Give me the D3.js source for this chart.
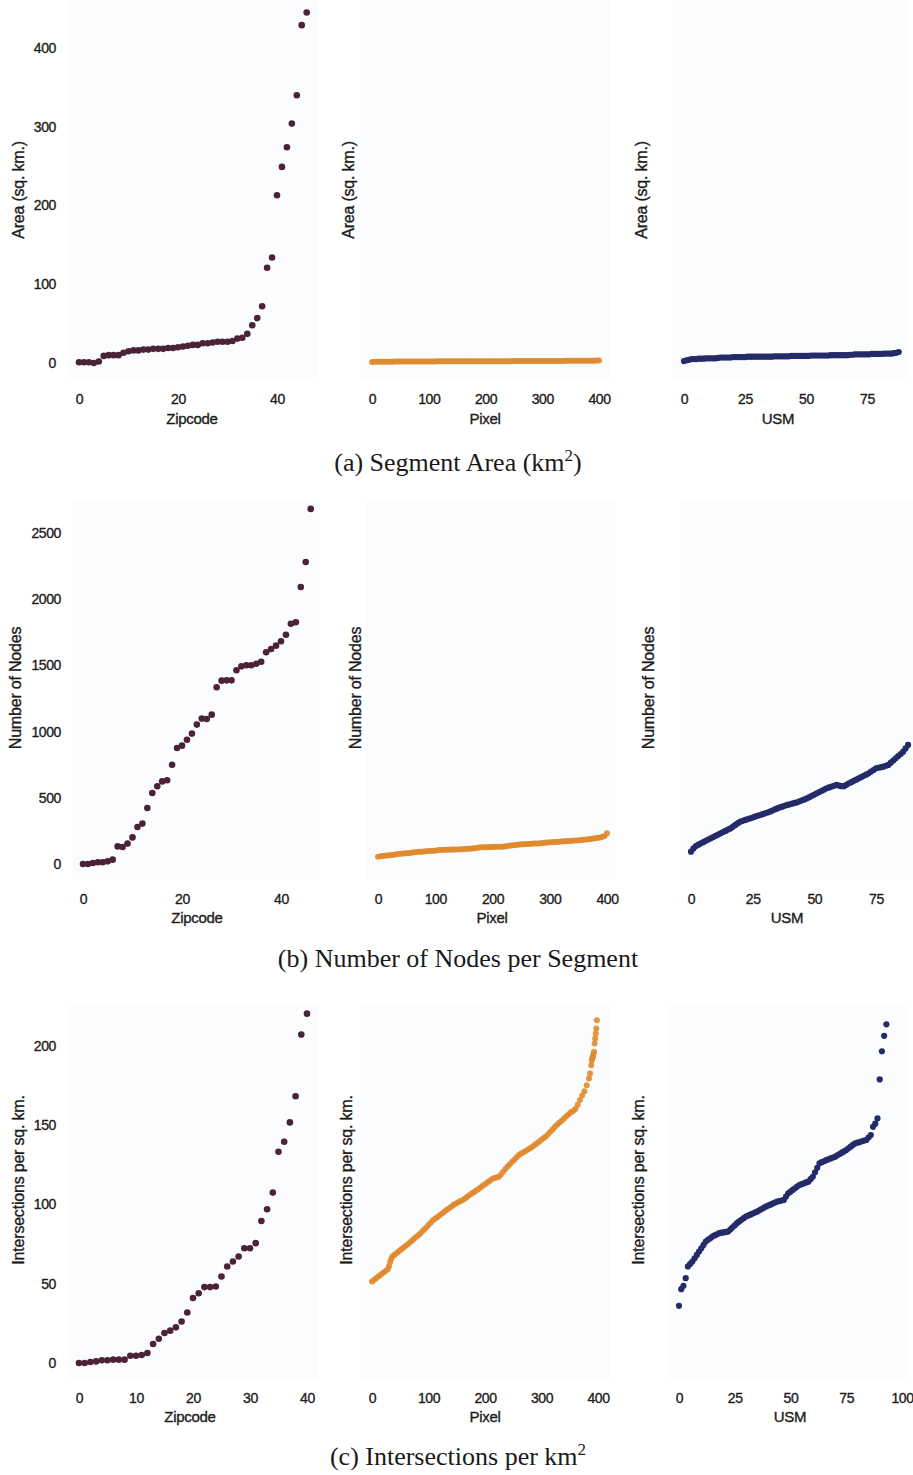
<!DOCTYPE html>
<html><head><meta charset="utf-8">
<script src="https://cdn.jsdelivr.net/npm/d3@7"></script>
<style>body{margin:0;background:#fff}svg{display:block}</style>
</head><body>
<svg id="chart" width="913" height="1475"></svg>
<script>
// ---------------- DATA ----------------
const xTicksZip = [0, 20, 40];
const xTicksZipC = [0, 10, 20, 30, 40];
const xTicksPixel = [0, 100, 200, 300, 400];
const xTicksUsm = [0, 25, 50, 75];
const xTicksUsmC = [0, 25, 50, 75, 100];
const yTicksArea = [0, 100, 200, 300, 400];
const yTicksNodes = [0, 500, 1000, 1500, 2000, 2500];
const yTicksInter = [0, 50, 100, 150, 200];

// (a) Segment area, sorted per segmentation (x = rank)
const zipcodeArea = [1,1,1,0,2,9,10,10,10,13,15,16,16,17,17,18,18,18,19,19,20,21,22,23,23,25,25,26,27,27,27,28,31,32,37,48,57,72,121,134,213,249,274,304,340,429,445];
const pixelRanks = d3.range(0, 401, 4);
const pixelArea = [1.4,1.5,1.5,1.6,1.6,1.6,1.7,1.7,1.7,1.7,1.8,1.8,1.8,1.8,1.8,1.9,1.9,1.9,1.9,1.9,1.9,2.0,2.0,2.0,2.0,2.0,2.0,2.0,2.0,2.1,2.1,2.1,2.1,2.1,2.1,2.1,2.1,2.1,2.1,2.2,2.2,2.2,2.2,2.2,2.2,2.2,2.2,2.2,2.2,2.2,2.2,2.3,2.3,2.3,2.3,2.3,2.3,2.3,2.3,2.3,2.3,2.3,2.4,2.4,2.4,2.4,2.4,2.4,2.4,2.4,2.4,2.5,2.5,2.5,2.5,2.5,2.5,2.5,2.5,2.6,2.6,2.6,2.6,2.6,2.6,2.7,2.7,2.7,2.7,2.7,2.8,2.8,2.8,2.8,2.9,2.9,2.9,3.0,3.0,3.1,3.2];
const usmArea = [2.5,3.5,4,5,5,5,5.5,5.5,5.5,6,6,6,6,6,6.5,7,7,7,7,7,7.5,7.5,7.5,7.5,7.5,7.5,8,8,8,8,8,8,8,8,8,8,8,8.5,8.5,8.5,8.5,8.5,8.5,8.5,9,9,9,9,9,9,9,9,9.5,9.5,9.5,9.5,9.5,9.5,9.5,9.5,10,10,10,10,10,10,10,10,10.5,10.5,11,11,11,11,11,11,11,11.5,11.5,11.5,11.5,11.5,12,12,12,12,12.5,13,14];

// (b) Number of nodes per segment
const zipcodeNodes = [0,0,8,13,13,20,33,133,128,154,201,280,305,423,536,587,624,632,750,876,894,939,985,1053,1098,1095,1128,1335,1385,1387,1387,1463,1493,1501,1501,1513,1528,1599,1624,1649,1682,1732,1815,1826,2092,2281,2682];
const pixelNodes = [55,58,60,62,64,66,68,70,73,75,77,79,81,82,84,86,88,90,92,93,95,96,98,99,100,101,103,105,106,107,107,108,109,109,110,110,111,112,113,115,116,117,119,121,124,126,127,127,128,129,129,130,130,131,131,133,135,137,139,141,143,146,148,149,150,151,152,153,154,155,155,156,158,160,162,164,165,166,167,168,169,171,172,173,174,176,177,178,180,181,183,185,187,189,192,195,198,201,205,212,232];
const usmNodes = [93,118,136,146,156,165,175,185,194,203,213,222,232,241,250,260,269,282,295,308,320,326,333,339,345,351,358,364,370,376,383,389,395,404,412,420,427,433,440,446,451,456,461,466,473,481,488,496,505,515,524,534,543,553,562,572,578,585,591,597,592,588,588,598,609,618,628,637,647,656,666,675,685,698,710,723,727,731,735,742,748,765,781,798,815,831,848,873,899];

// (c) Intersections per sq. km.
const zipcodeInter = [0,0,0.6,1,1.7,1.7,2.1,2.1,2.1,4.6,4.6,5,6.3,12,15.3,18.9,20.4,22.5,26.2,31.9,41,44,47.9,47.9,48.3,54.6,60.9,64,67.2,72.4,72.4,75.6,89.6,97,107.5,133.3,139.6,151.8,168.3,207.2,220.4];
const pixelInter = [[0,51.4],[4,52.5],[8,53.6],[12,54.8],[16,55.9],[20,57.0],[24,58.1],[28,59.2],[30,61.0],[32,63.5],[34,65.6],[36,67.2],[40,68.3],[44,69.4],[48,70.6],[52,71.7],[56,72.8],[60,73.9],[64,75.1],[68,76.3],[72,77.6],[76,78.8],[80,80.0],[84,81.3],[88,82.6],[92,84.0],[96,85.5],[100,87.0],[104,88.5],[108,90.0],[112,91.1],[116,92.1],[120,93.2],[124,94.3],[128,95.4],[132,96.5],[136,97.5],[140,98.6],[144,99.7],[148,100.5],[152,101.2],[156,102.0],[160,102.7],[164,103.7],[168,104.8],[172,105.8],[176,106.8],[180,107.7],[184,108.7],[188,109.7],[192,110.7],[196,111.8],[200,112.8],[204,113.9],[208,114.9],[212,116.0],[216,116.7],[220,117.0],[224,117.4],[228,118.8],[232,120.6],[236,122.4],[240,124.0],[244,125.4],[248,126.9],[252,128.3],[256,129.8],[260,131.2],[264,132.1],[268,133.0],[272,133.8],[276,134.7],[280,135.5],[284,136.4],[288,137.5],[292,138.6],[296,139.7],[300,140.8],[304,141.9],[308,143.1],[312,144.5],[316,146.0],[320,147.5],[324,149.0],[328,150.5],[332,151.8],[336,153.0],[340,154.3],[344,155.6],[348,156.9],[352,158.2],[356,159.0],[360,160.2],[364,163.0],[368,165.9],[372,168.7],[376,171.5],[380,175.3],[384,179.5],[386,182.6],[388,187.9],[389,191.0],[390,192.3],[391,193.6],[392,195.0],[393,196.3],[394,201.6],[395,204.7],[396,207.9],[397,211.0],[398,216.3]];
const usmInter = [36.1,46.6,48.7,53.5,60.9,62.5,64.0,66.1,68.2,70.3,72.4,74.5,76.6,77.7,78.7,79.8,80.5,81.2,81.9,82.2,82.4,82.7,82.9,84.2,85.6,86.9,88.2,89.3,90.3,91.4,92.4,93.0,93.6,94.3,94.9,95.5,96.3,97.1,97.9,98.7,99.3,99.9,100.6,101.2,101.8,102.2,102.5,102.9,105.0,107.1,108.1,109.2,110.2,111.3,112.3,112.8,113.4,113.9,114.4,116.0,117.5,120.3,123.2,126.0,126.7,127.3,128.0,128.5,129.1,129.6,130.1,131.0,131.8,132.7,133.5,134.4,135.5,136.5,137.6,138.6,139.0,139.4,139.9,140.3,140.7,142.2,143.8,149.0,151.0,154.3,178.9,196.7,206.4,213.7];

const captions = ["(a) Segment Area (km", "(b) Number of Nodes per Segment", "(c) Intersections per km"];
const yLabels = ["Area (sq. km.)", "Number of Nodes", "Intersections per sq. km."];

// ---------------- STYLE / LAYOUT ----------------
const colors = {Zipcode: "#4b2335", Pixel: "#e0892e", USM: "#252a68"};
const radius = {Zipcode: 3.3, Pixel: 3.0, USM: 3.1};
const textColor = "#1c1c1c";
const sansFont = "'Liberation Sans', Arial, sans-serif";
const serifFont = "'Liberation Serif', 'Times New Roman', serif";

const pairs = (vals) => vals.map((v, i) => [i, v]);
const rankPairs = (ranks, vals) => vals.map((v, i) => [ranks[i], v]);

const rows = [
  { caption: captions[0], sup: "2)", captionY: 471, ylabel: yLabels[0], yDomain: [0, 400], yRange: [363, 48], yTicks: yTicksArea,
    tickRight: 56, xTickY: 399, xTitleY: 418, ylabelY: 190, box: [0, 378],
    panels: [
      {name: "Zipcode", data: pairs(zipcodeArea), xDomain: [0, 40], xRange: [79, 277], xTicks: xTicksZip, titleX: 192, ylabX: 18, box: [68, 318]},
      {name: "Pixel", data: rankPairs(pixelRanks, pixelArea), xDomain: [0, 400], xRange: [372, 599], xTicks: xTicksPixel, titleX: 485, ylabX: 348, box: [360, 610]},
      {name: "USM", data: pairs(usmArea), xDomain: [0, 75], xRange: [684, 867], xTicks: xTicksUsm, titleX: 778, ylabX: 641, box: [672, 908]}
    ]},
  { caption: captions[1], sup: null, captionY: 967, ylabel: yLabels[1], yDomain: [0, 2500], yRange: [864, 533], yTicks: yTicksNodes,
    tickRight: 61, xTickY: 899, xTitleY: 917, ylabelY: 688, box: [500, 880],
    panels: [
      {name: "Zipcode", data: pairs(zipcodeNodes), xDomain: [0, 40], xRange: [83, 281], xTicks: xTicksZip, titleX: 197, ylabX: 15, box: [72, 320]},
      {name: "Pixel", data: rankPairs(pixelRanks, pixelNodes), xDomain: [0, 400], xRange: [378, 607], xTicks: xTicksPixel, titleX: 492, ylabX: 355, box: [366, 616]},
      {name: "USM", data: pairs(usmNodes), xDomain: [0, 75], xRange: [691, 876], xTicks: xTicksUsm, titleX: 787, ylabX: 648, box: [680, 913]}
    ]},
  { caption: captions[2], sup: "2", captionY: 1465, ylabel: yLabels[2], yDomain: [0, 200], yRange: [1363, 1046], yTicks: yTicksInter,
    tickRight: 56, xTickY: 1398, xTitleY: 1416, ylabelY: 1180, box: [1005, 1380],
    panels: [
      {name: "Zipcode", data: pairs(zipcodeInter), xDomain: [0, 40], xRange: [79, 307], xTicks: xTicksZipC, titleX: 190, ylabX: 18, box: [68, 318]},
      {name: "Pixel", data: rankPairs(pixelInter.map(d => d[0]), pixelInter.map(d => d[1])), xDomain: [0, 400], xRange: [372, 598], xTicks: xTicksPixel, titleX: 485, ylabX: 346, box: [360, 610]},
      {name: "USM", data: pairs(usmInter), xDomain: [0, 100], xRange: [679, 902], xTicks: xTicksUsmC, titleX: 790, ylabX: 638, box: [668, 908]}
    ]}
];

// ---------------- DRAW ----------------
const svg = d3.select("#chart");
svg.append("rect").attr("width", 913).attr("height", 1475).attr("fill", "#ffffff");

const styleText = (sel, size, ls) => sel.attr("fill", textColor).attr("font-family", sansFont)
  .attr("font-size", size).attr("letter-spacing", ls)
  .attr("stroke", textColor).attr("stroke-width", 0.35);

rows.forEach((row, ri) => {
  const y = d3.scaleLinear().domain(row.yDomain).range(row.yRange);
  const g = svg.append("g").attr("class", "row row-" + ri);

  row.panels.forEach((p, pi) => {
    const x = d3.scaleLinear().domain(p.xDomain).range(p.xRange);
    const pg = g.append("g").attr("class", "panel");

    // very faint plot background
    pg.append("rect")
      .attr("x", p.box[0]).attr("y", row.box[0])
      .attr("width", p.box[1] - p.box[0]).attr("height", row.box[1] - row.box[0])
      .attr("fill", "#fafcfe");

    // x axis (labels only)
    const xAxis = d3.axisBottom(x).tickValues(p.xTicks).tickSize(0).tickPadding(0).tickFormat(d3.format("d"));
    const xg = pg.append("g").attr("transform", `translate(0,${row.xTickY - 6})`).call(xAxis);
    xg.select(".domain").remove();
    styleText(xg.selectAll("text"), 14, -0.4).attr("dy", "0.8em");

    // y axis tick labels only on first panel (shared y)
    if (pi === 0) {
      const yAxis = d3.axisLeft(y).tickValues(row.yTicks).tickSize(0).tickPadding(0).tickFormat(d3.format("d"));
      const yg = pg.append("g").attr("transform", `translate(${row.tickRight},0)`).call(yAxis);
      yg.select(".domain").remove();
      styleText(yg.selectAll("text"), 14, -0.4);
    }

    // axis titles
    styleText(pg.append("text").attr("x", p.titleX).attr("y", row.xTitleY)
      .attr("text-anchor", "middle").attr("dominant-baseline", "central"), 15, -0.3).text(p.name);
    styleText(pg.append("text")
      .attr("transform", `translate(${p.ylabX},${row.ylabelY}) rotate(-90)`)
      .attr("text-anchor", "middle").attr("dominant-baseline", "central"), 16, -0.2).text(row.ylabel);

    // points
    pg.append("g").selectAll("circle").data(p.data).join("circle")
      .attr("cx", d => x(d[0])).attr("cy", d => y(d[1]))
      .attr("r", radius[p.name])
      .attr("fill", colors[p.name])
      .attr("fill-opacity", p.name === "Pixel" ? 0.9 : 1);
  });

  // caption
  const cap = svg.append("text").attr("x", 458).attr("y", row.captionY)
    .attr("text-anchor", "middle").attr("font-family", serifFont)
    .attr("font-size", 26).attr("fill", "#1a1a1a");
  cap.append("tspan").text(row.caption);
  if (row.sup) {
    cap.append("tspan").attr("dy", -10).attr("font-size", 17).text("2");
    if (row.sup === "2)") cap.append("tspan").attr("dy", 10).text(")");
  }
});
</script>
</body></html>
